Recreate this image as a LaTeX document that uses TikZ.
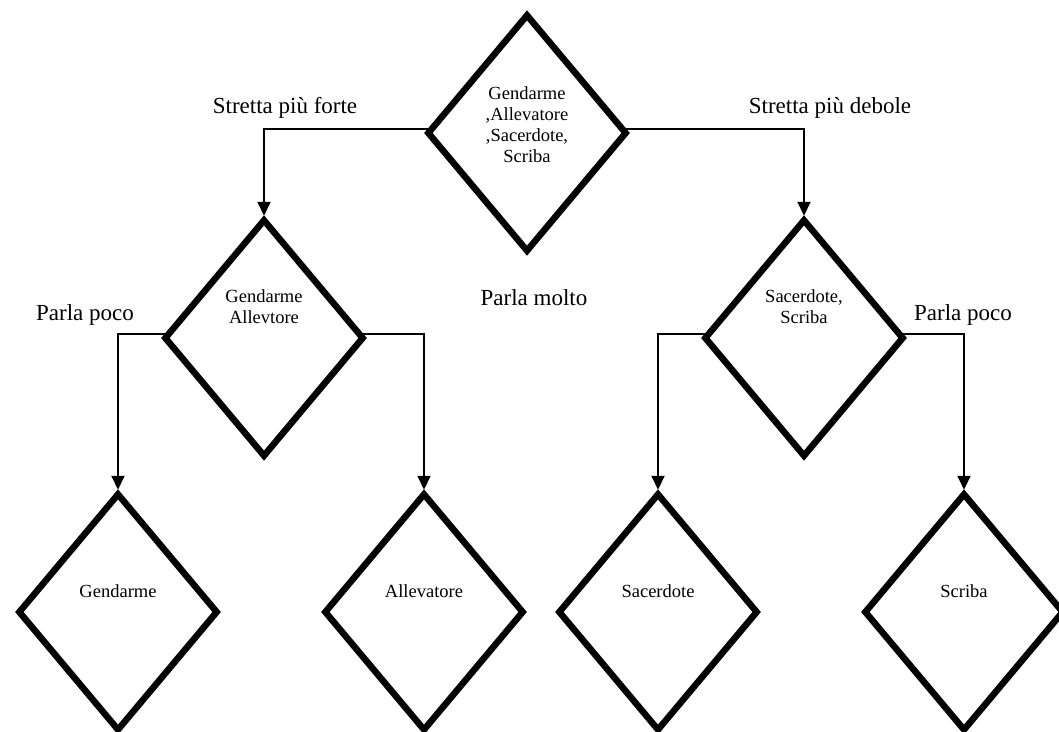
\documentclass[tikz,border=0pt]{standalone}
\usepackage{fontspec}
\setmainfont{Liberation Serif}
\usetikzlibrary{shapes.geometric,arrows.meta}
\begin{document}
\begin{tikzpicture}[x=1pt,y=-1pt,
  dec/.style={diamond, draw, line width=6.5pt, minimum width=200pt, minimum height=238pt, inner sep=0pt, miter limit=10},
  dtext/.style={font=\fontsize{18.5}{21}\selectfont, align=center, inner sep=0pt},
  lbl/.style={font=\fontsize{23}{26}\selectfont, anchor=base, inner sep=0pt},
  conn/.style={line width=2pt, -{Triangle[width=13pt,length=14pt]}},
]
\path[use as bounding box, fill=white] (0,0) rectangle (1059,731);

% diamonds
\node[dec] (top) at (527,133) {};
\node[dec] (ml) at (264,338) {};
\node[dec] (mr) at (804,338) {};
\node[dec] (gen) at (118,612) {};
\node[dec] (all) at (424,612) {};
\node[dec] (sac) at (658,612) {};
\node[dec] (scr) at (964,612) {};

% texts in diamonds
\node[dtext] (ttop) at ([yshift=8pt]top.center) {Gendarme\\,Allevatore\\,Sacerdote,\\Scriba};
\node[dtext] (tml) at ([yshift=31pt]ml.center) {Gendarme\\Allevtore};
\node[dtext] (tmr) at ([yshift=31pt]mr.center) {Sacerdote,\\Scriba};
\node[dtext] (tgen) at ([yshift=21pt]gen.center) {Gendarme};
\node[dtext] (tall) at ([yshift=21pt]all.center) {Allevatore};
\node[dtext] (tsac) at ([yshift=21pt]sac.center) {Sacerdote};
\node[dtext] (tscr) at ([yshift=21pt]scr.center) {Scriba};

% connectors
\draw[conn] ([yshift=4pt,xshift=4pt]top.west) -| (ml.north);
\draw[conn] ([yshift=4pt,xshift=-4pt]top.east) -| (mr.north);
\draw[conn] ([yshift=4pt,xshift=4pt]ml.west) -| (gen.north);
\draw[conn] ([yshift=4pt,xshift=-4pt]ml.east) -| (all.north);
\draw[conn] ([yshift=4pt,xshift=4pt]mr.west) -| (sac.north);
\draw[conn] ([yshift=4pt,xshift=-4pt]mr.east) -| (scr.north);

% labels
\node[lbl] (l1) at (285,113) {Stretta più forte};
\node[lbl] (l2) at (830,113) {Stretta più debole};
\node[lbl] (l3) at (85,320) {Parla poco};
\node[lbl] (l4) at (534,305) {Parla molto};
\node[lbl] (l5) at (963,320) {Parla poco};
\end{tikzpicture}
\end{document}
